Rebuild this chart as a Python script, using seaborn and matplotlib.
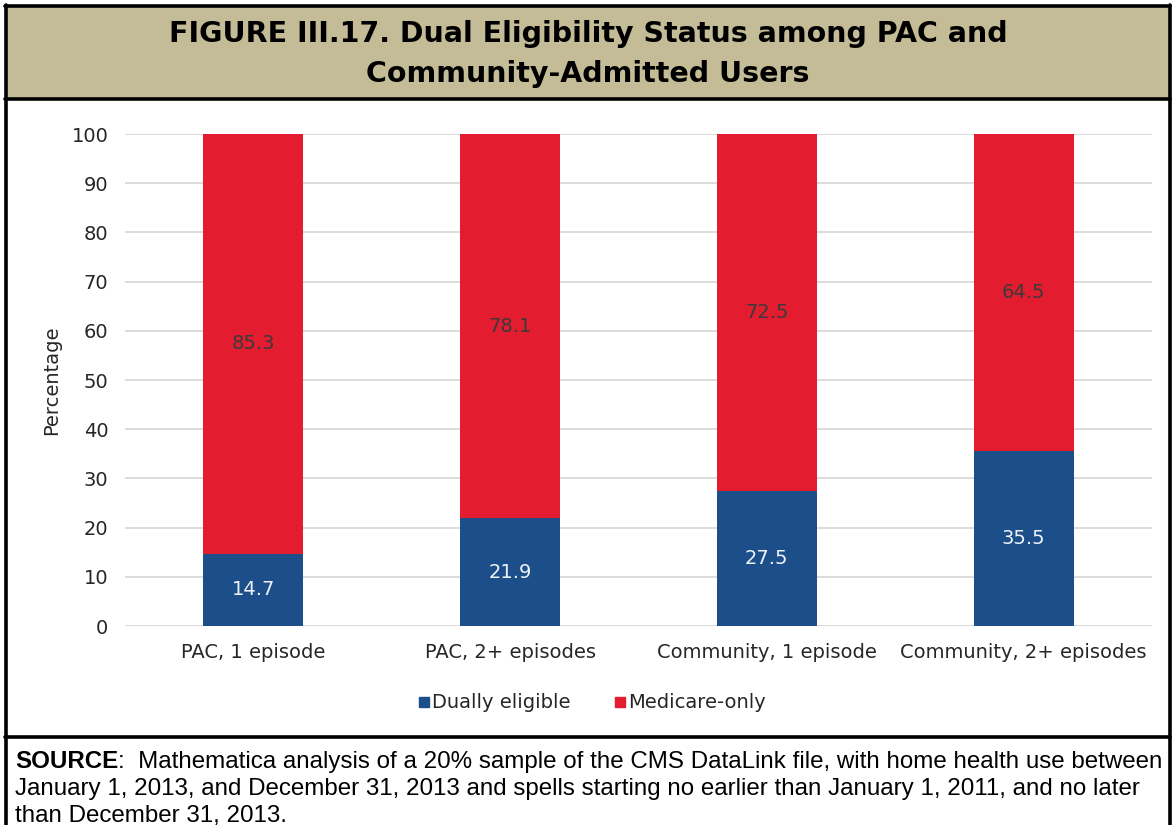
import matplotlib
matplotlib.use("Agg")
import matplotlib.pyplot as plt
import numpy as np
import pandas as pd
import seaborn as sns
from matplotlib.patches import Rectangle
from matplotlib.lines import Line2D

# ---- data -------------------------------------------------------------
categories = ["PAC, 1 episode", "PAC, 2+ episodes",
              "Community, 1 episode", "Community, 2+ episodes"]
dually_eligible = [14.7, 21.9, 27.5, 35.5]
medicare_only = [85.3, 78.1, 72.5, 64.5]
series_names = ["Dually eligible", "Medicare-only"]
y_ticks = [0, 10, 20, 30, 40, 50, 60, 70, 80, 90, 100]

title_lines = ["FIGURE III.17. Dual Eligibility Status among PAC and",
               "Community-Admitted Users"]
source_head = "SOURCE"
source_lines = [
    ":  Mathematica analysis of a 20% sample of the CMS DataLink file, with home health use between",
    "January 1, 2013, and December 31, 2013 and spells starting no earlier than January 1, 2011, and no later",
    "than December 31, 2013.",
]

# ---- style ------------------------------------------------------------
BLUE = "#1C4E8A"
RED = "#E31C30"
TAN = "#C4BC96"
GRID = "#D9D9D9"
TEXT = "#262626"

sns.set_theme(style="white")
plt.rcParams["font.family"] = ["DejaVu Sans"]

W, H = 1175, 825
fig = plt.figure(figsize=(W / 100, H / 100), dpi=100)
fig.patch.set_facecolor("white")


def fx(px):
    return px / W


def fy(py):
    return 1 - py / H


# title band and frame
fig.patches.append(Rectangle((fx(5), fy(99)), fx(1170) - fx(5), fy(6) - fy(99),
                             transform=fig.transFigure, facecolor=TAN,
                             edgecolor="none", zorder=0))
frame_kw = dict(transform=fig.transFigure, color="black", lw=2.6, zorder=5)
fig.lines.append(Line2D([fx(5.5), fx(5.5)], [fy(5), fy(830)], **frame_kw))
fig.lines.append(Line2D([fx(1169.5), fx(1169.5)], [fy(5), fy(830)], **frame_kw))
fig.lines.append(Line2D([fx(5), fx(1170)], [fy(6), fy(6)], **frame_kw))
fig.lines.append(Line2D([fx(5), fx(1170)], [fy(98.5), fy(98.5)], **frame_kw))
fig.lines.append(Line2D([fx(5), fx(1170)], [fy(737), fy(737)], **frame_kw))

# title
fig.text(fx(588), fy(42), title_lines[0], ha="center", va="baseline",
         fontsize=20.5, fontweight="heavy", color="black")
fig.text(fx(588), fy(82), title_lines[1], ha="center", va="baseline",
         fontsize=20.5, fontweight="heavy", color="black")

# ---- chart ------------------------------------------------------------
ax = fig.add_axes([fx(125), fy(626), fx(1152) - fx(125), fy(134) - fy(626)])

df = pd.DataFrame({"category": categories,
                   "dual": dually_eligible,
                   "medicare": medicare_only})
df["total"] = df["dual"] + df["medicare"]

sns.barplot(data=df, x="category", y="total", color=RED, saturation=1,
            width=0.39, ax=ax, zorder=2, linewidth=0)
sns.barplot(data=df, x="category", y="dual", color=BLUE, saturation=1,
            width=0.39, ax=ax, zorder=3, linewidth=0)

for i, (d, m) in enumerate(zip(dually_eligible, medicare_only)):
    ax.text(i, d / 2, f"{d:.1f}", ha="center", va="center",
            fontsize=14, color="#EEF2F8", zorder=4)
    ax.text(i, d + m / 2, f"{m:.1f}", ha="center", va="center",
            fontsize=14, color="#3A3A3A", zorder=4)

ax.set_ylim(0, 100)
ax.set_xlim(-0.5, len(categories) - 0.5)
ax.set_yticks(y_ticks)
ax.yaxis.grid(True, color=GRID, lw=1.3)
ax.xaxis.grid(False)
ax.set_axisbelow(True)
for s in ax.spines.values():
    s.set_visible(False)
ax.tick_params(axis="both", length=0, labelsize=14, colors=TEXT)
ax.tick_params(axis="y", pad=12)
ax.tick_params(axis="x", pad=12)
ax.set_xlabel("")
ax.set_ylabel("Percentage", fontsize=14, color=TEXT)
ax.yaxis.set_label_coords((61 - 125) / (1152 - 125), 0.5)

handles = [Line2D([], [], marker="s", linestyle="none", markersize=7,
                  markerfacecolor=c, markeredgecolor=c)
           for c in (BLUE, RED)]
fig.legend(handles, series_names, loc="center", bbox_to_anchor=(fx(592), fy(703)),
           ncol=2, frameon=False, fontsize=14, handlelength=0.6,
           handletextpad=0.15, columnspacing=2.2, labelcolor=TEXT)

# ---- source note ------------------------------------------------------
SRC_SIZE = 17.4
SRC_BASE = [768, 795, 822]
fig.canvas.draw()
renderer = fig.canvas.get_renderer()
head = fig.text(fx(15), fy(SRC_BASE[0]), source_head, ha="left", va="baseline",
                fontsize=SRC_SIZE, fontweight="bold", family="Liberation Sans",
                color="black")
bb = head.get_window_extent(renderer)
fig.text(bb.x1 / W, fy(SRC_BASE[0]), source_lines[0], ha="left", va="baseline",
         fontsize=SRC_SIZE, family="Liberation Sans", color="black")
fig.text(fx(15), fy(SRC_BASE[1]), source_lines[1], ha="left", va="baseline",
         fontsize=SRC_SIZE, family="Liberation Sans", color="black")
fig.text(fx(15), fy(SRC_BASE[2]), source_lines[2], ha="left", va="baseline",
         fontsize=SRC_SIZE, family="Liberation Sans", color="black")

fig.savefig("out.png", dpi=100)
